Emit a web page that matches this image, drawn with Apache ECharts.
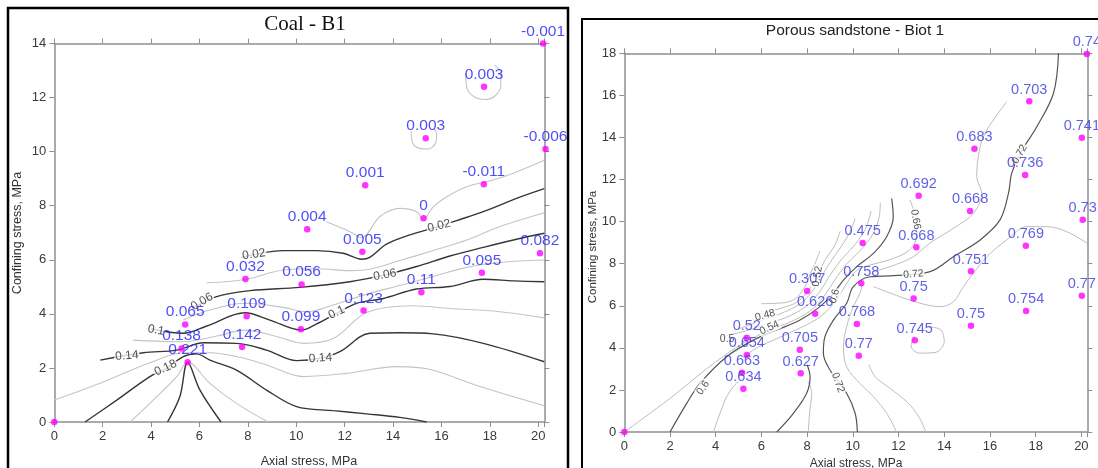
<!DOCTYPE html>
<html><head><meta charset="utf-8">
<script src="https://cdn.jsdelivr.net/npm/echarts@6/dist/echarts.min.js"></script>
<style>html,body{margin:0;padding:0;background:#fff}#c{width:1098px;height:468px}</style>
</head><body><div id="c"></div>
<script>
// ---------- Coal - B1 : measured points ----------
const coalX = [0, 5.51, 5.26, 5.41, 7.76, 7.95, 7.9, 10.19, 10.22, 10.45, 12.78, 12.73, 12.85, 15.17, 15.26, 15.35, 17.67, 17.75, 17.76, 20.07, 20.3, 20.2];
const coalY = [0, 2.21, 2.72, 3.61, 2.77, 3.91, 5.29, 3.43, 5.09, 7.13, 4.12, 6.3, 8.76, 4.8, 7.54, 10.5, 5.52, 8.79, 12.4, 6.24, 10.1, 14];
const coalLabel = ['', '0.221', '0.138', '0.065', '0.142', '0.109', '0.032', '0.099', '0.056', '0.004', '0.123', '0.005', '0.001', '0.11', '0', '0.003', '0.095', '-0.011', '0.003', '0.082', '-0.006', '-0.001'];

// Coal contour lines (dark = labelled levels, light = intermediate levels)
const coalDark = [
  [[7.74,6.09],[9.46,6.34],[10.84,6.34],[11.94,6.24],[12.7,6.02],[13.04,6.09],[13.73,6.58],[14.7,6.92],[15.87,7.23],[16.63,7.45],[17.73,7.78],[19.1,8.27],[20.25,8.63]],
  [[5.7,4.2],[6.71,4.64],[8.09,4.86],[10.15,4.98],[12.22,5.19],[13.66,5.44],[14.97,5.75],[16.35,6.14],[17.73,6.46],[19.1,6.76],[20.25,6.98]],
  [[4.0,3.45],[5.33,3.28],[6.3,3.55],[7.88,4.04],[8.91,3.77],[10.22,3.4],[10.84,3.63],[11.67,4.02],[12.49,4.39],[13.6,4.57],[14.97,4.92],[16.35,5.01],[17.73,5.28],[19.0,5.22],[20.25,5.19]],
  [[1.9,2.29],[3.68,2.56],[5.06,2.66],[6.16,2.93],[7.53,2.91],[8.77,2.66],[10.01,2.27],[10.98,2.36],[11.8,2.6],[13.04,3.28],[14.28,3.3],[15.66,3.26],[17.73,2.91],[20.25,2.23]],
  [[1.27,0],[2.58,0.81],[3.95,1.68],[4.57,1.95],[5.33,2.42],[5.88,2.52],[6.43,2.29],[7.53,1.92],[8.77,1.18],[10.01,0.57],[11.53,0.42],[12.91,0.3],[14.28,0.17],[15.39,0]],
  [[4.68,0],[5.19,0.94],[5.51,2.21],[6.02,1.18],[6.89,0]]
];
const coalLight = [
  [[17.0,12.9],[17.05,12.35],[17.4,12.0],[17.8,11.93],[18.2,12.05],[18.45,12.45],[18.45,12.9],[18.2,13.2]],
  [[14.75,10.75],[14.8,10.35],[15.1,10.12],[15.45,10.1],[15.75,10.3],[15.8,10.65],[15.7,10.85]],
  [[11.25,7.41],[12.22,7.04],[12.7,6.82],[13.46,7.6],[14.28,7.9],[14.97,7.78],[15.25,7.5],[15.66,7.96],[16.22,8.33],[17.04,8.7],[18.14,8.95],[18.97,9.2],[20.25,9.68]],
  [[6.3,5.15],[7.88,5.27],[9.46,5.62],[10.84,5.67],[12.22,5.6],[13.04,5.65],[14.28,5.97],[15.66,6.34],[17.04,6.73],[18.42,7.23],[20.25,7.74]],
  [[5.33,3.77],[6.43,4.14],[7.88,4.39],[9.46,4.24],[10.43,4.08],[11.53,4.33],[12.91,4.73],[14.28,5.05],[15.66,5.38],[17.04,5.72],[18.42,5.9],[20.25,5.99]],
  [[3.26,3.03],[5.33,2.97],[6.71,3.18],[7.88,3.4],[9.19,3.16],[10.29,2.91],[11.53,3.09],[12.91,4.05],[14.82,4.3],[16.35,4.2],[18.42,4.08],[20.25,3.85]],
  [[0,0.81],[1.89,1.43],[3.95,2.19],[5.33,2.56],[6.43,2.56],[7.53,2.42],[8.77,2.11],[10.29,1.68],[12.08,1.8],[14.15,2.05],[15.5,1.95],[17.59,1.31],[20.25,0.6]],
  [[3.13,0],[3.95,0.69],[5.06,1.68],[5.51,2.21],[6.43,1.43],[7.53,0.69],[8.84,0]]
];
const coalLevelText = ['0.02', '0.02', '0.06', '0.06', '0.1', '0.1', '0.14', '0.14', '0.18'];
const coalLevelX = [8.25, 15.9, 13.66, 6.1, 11.67, 4.2, 11.0, 3.0, 4.6];
const coalLevelY = [6.2, 7.25, 5.44, 4.45, 4.05, 3.4, 2.36, 2.45, 2.0];

// ---------- Porous sandstone - Biot 1 : measured points ----------
const sandX = [0, 20.24, 17.72, 20.02, 15.32, 17.54, 12.88, 15.13, 20.06, 10.43, 12.78, 17.57, 15.17, 10.37, 8.0, 12.66, 20.02, 8.35, 17.58, 10.18, 15.17, 5.36, 12.71, 7.68, 5.36, 10.26, 5.15, 7.72, 5.21];
const sandY = [0, 17.97, 15.72, 13.99, 13.46, 12.21, 11.23, 10.5, 10.09, 8.98, 8.78, 8.85, 7.64, 7.07, 6.7, 6.34, 6.48, 5.62, 5.75, 5.13, 5.05, 4.48, 4.36, 3.91, 3.66, 3.63, 2.82, 2.79, 2.06];
const sandLabel = ['', '0.74', '0.703', '0.741', '0.683', '0.736', '0.692', '0.668', '0.73', '0.475', '0.668', '0.769', '0.751', '0.758', '0.307', '0.75', '0.77', '0.626', '0.754', '0.768', '0.75', '0.52', '0.745', '0.705', '0.654', '0.77', '0.663', '0.627', '0.634'];

const sandDark = [
  [[19.0,18],[18.78,16.1],[18.05,14.51],[17.32,13.24],[16.95,12.29],[16.81,11.34],[16.44,10.08],[15.57,9.13],[14.4,8.33],[13.38,7.62],[11.78,7.43],[10.75,7.38],[10.02,6.91],[9.73,6.12],[9.15,5.32],[8.78,4.53],[8.71,3.74],[9.0,2.95],[9.73,1.84],[10.1,0.89],[10.2,0]],
  [[2.0,0],[2.73,1.36],[3.31,2.31],[4.48,3.58],[5.65,4.37],[6.67,4.85],[7.69,5.32],[8.56,5.96],[9.15,6.59],[9.59,7.22],[10.17,7.86],[10.9,8.49],[11.48,9.28],[11.77,10.23],[11.7,11.1]],
  [[6.67,0],[7.4,0.89],[7.98,1.84],[8.13,2.63],[8.0,3.2]]
];
const sandLight = [
  [[0,0],[2.0,1.6],[3.6,3.0],[4.63,3.82],[5.6,4.45],[6.5,4.9],[7.5,5.35],[8.3,5.9],[8.8,6.55],[9.2,7.2],[9.7,7.95],[10.3,8.6],[10.85,9.35],[11.15,10.2],[11.2,10.9]],
  [[4.3,4.55],[5.3,4.8],[6.3,5.15],[7.3,5.55],[8.1,6.1],[8.6,6.75],[9.0,7.45],[9.5,8.2],[10.05,8.85],[10.55,9.65],[10.8,10.5]],
  [[5.0,4.9],[6.0,5.3],[7.0,5.7],[7.7,6.1],[8.2,6.65],[8.6,7.35],[9.0,8.05],[9.45,8.75],[9.85,9.45],[10.1,10.15]],
  [[5.9,5.6],[6.9,5.9],[7.6,6.2],[8.1,6.8],[8.45,7.5],[8.8,8.2],[9.2,8.85],[9.45,9.55]],
  [[6.0,6.1],[7.0,6.15],[7.5,6.35],[7.9,6.9],[8.15,7.55],[8.4,8.15],[8.55,8.6]],
  [[12.5,11.03],[12.75,10.2],[12.8,9.44],[12.65,8.85],[12.2,8.45],[11.5,8.15],[10.8,7.95],[10.2,7.7],[9.75,7.1],[9.4,6.45],[8.95,5.85],[8.4,5.35],[7.6,4.9],[6.7,4.45],[5.8,4.0],[5.2,3.55]],
  [[16.73,15.7],[16.15,14.83],[15.71,14.04],[15.49,13.09],[15.42,12.14],[15.64,11.34],[15.27,10.39],[14.4,9.68],[13.4,9.0],[12.6,8.3],[11.6,7.85],[10.9,7.62]],
  [[11.92,0],[11.48,0.89],[10.9,1.68],[10.31,2.31],[9.73,3.1],[9.59,4.06],[9.73,5.01],[10.02,5.96],[10.31,6.59],[10.4,7.0]],
  [[10.9,6.91],[12.07,6.43],[12.94,6.12],[13.82,5.96],[14.4,6.19],[14.84,6.91],[15.27,7.54],[15.86,8.33],[16.73,9.13],[17.61,9.76],[18.49,9.76],[19.36,9.52],[20.26,8.97]],
  [[12.7,4.55],[12.55,4.1],[12.9,3.75],[13.6,3.78],[14.0,4.3],[13.85,4.85],[13.35,5.0]],
  [[3.9,0],[4.19,0.89],[4.48,1.68],[4.77,2.15],[5.0,2.4]],
  [[8.05,0],[8.12,1.05],[8.2,1.84],[8.05,2.4]],
  [[13.2,0],[12.9,0.7],[12.4,1.4],[11.6,2.1],[11.0,2.6],[10.7,3.2]]
];
const sandLevelText = ['0.72', '0.72', '0.72', '0.6', '0.6', '0.66', '0.48', '0.54', '0.52', '0.5'];
const sandLevelX = [17.3, 12.65, 9.35, 3.45, 9.2, 12.75, 6.16, 6.35, 8.45, 4.5];
const sandLevelY = [13.2, 7.5, 2.35, 2.1, 6.45, 10.1, 5.55, 4.95, 7.4, 4.4];

// ---------- styling ----------
const coalLevelAngle = [8, 14, 10, 30, 25, -10, 4, 5, 25];
const sandLevelAngle = [60, 5, -70, 55, 75, -80, 15, 25, 80, 0];
const FONT = 'Liberation Sans, Arial, Helvetica, sans-serif';
const axisGray = '#8f8f8f';

function axes(gi, xmax, ymax) {
  const common = {
    type: 'value', gridIndex: gi, min: 0, interval: 2,
    splitLine: {show: false},
    axisLine: {show: true, onZero: false, lineStyle: {color: axisGray, width: 1.5}},
    axisTick: {show: true, inside: false, length: 5, lineStyle: {color: axisGray, width: 1}}
  };
  const lab = {show: true, color: '#3a3a3a', fontSize: 13, fontFamily: FONT,
    formatter: v => (Math.abs(v % 2) < 1e-9 ? String(v) : '')};
  return {
    x: [
      Object.assign({}, common, {max: xmax, position: 'bottom', axisLabel: Object.assign({}, lab, {margin: 8}), showMaxLabel: false}),
      Object.assign({}, common, {max: xmax, position: 'top', axisLabel: {show: false}})
    ],
    y: [
      Object.assign({}, common, {max: ymax, position: 'left', axisLabel: Object.assign({}, lab, {margin: 8})}),
      Object.assign({}, common, {max: ymax, position: 'right', axisLabel: {show: false}})
    ]
  };
}

const a0 = axes(0, 20.25, 14);
const a1 = axes(1, 20.26, 18);
const xAxis = [a0.x[0], a0.x[1], a1.x[0], a1.x[1]];
const yAxis = [a0.y[0], a0.y[1], a1.y[0], a1.y[1]];

const series = [];
function addLines(lines, xi, yi, color, width) {
  lines.forEach(pts => series.push({
    type: 'line', xAxisIndex: xi, yAxisIndex: yi, data: pts, smooth: 0.35,
    symbol: 'none', silent: true, z: 1,
    lineStyle: {color: color, width: width}
  }));
}
addLines(coalLight, 0, 0, '#c4c4c4', 1.1);
addLines(coalDark, 0, 0, '#363636', 1.4);
addLines(sandLight, 2, 2, '#bdbdbd', 1);
addLines(sandDark, 2, 2, '#555555', 1.2);

function addLevelLabels(xs, ys, txt, ang, xi, yi, size) {
  series.push({
    type: 'scatter', xAxisIndex: xi, yAxisIndex: yi, symbolSize: 0, silent: true, z: 2, clip: false,
    data: xs.map((x, i) => ({value: [x, ys[i]], name: txt[i], label: {rotate: ang[i]}})),
    label: {show: true, position: 'inside', formatter: p => p.name, color: '#262626',
      fontSize: size, fontFamily: FONT, backgroundColor: '#ffffff', padding: [0, 1]}
  });
}
addLevelLabels(coalLevelX, coalLevelY, coalLevelText, coalLevelAngle, 0, 0, 12);
addLevelLabels(sandLevelX, sandLevelY, sandLevelText, sandLevelAngle, 2, 2, 10.5);

function addPoints(xs, ys, labs, xi, yi, size, color) {
  series.push({
    type: 'scatter', xAxisIndex: xi, yAxisIndex: yi, symbol: 'circle', symbolSize: 6.5, z: 3, clip: false,
    itemStyle: {color: '#ff00ff'},
    data: xs.map((x, i) => ({value: [x, ys[i]], name: labs[i]})),
    label: {show: true, position: 'top', distance: 1, formatter: p => p.name,
      color: color, fontSize: size, fontFamily: FONT}
  });
}
addPoints(coalX, coalY, coalLabel, 0, 0, 15.5, '#2222f8');
addPoints(sandX, sandY, sandLabel, 2, 2, 14.5, '#3838e0');

const graphic = [
  {type: 'rect', shape: {x: 8, y: 8, width: 560, height: 480}, style: {fill: 'none', stroke: '#000', lineWidth: 2.5}},
  {type: 'rect', shape: {x: 582, y: 19, width: 540, height: 470}, style: {fill: 'none', stroke: '#000', lineWidth: 2}},
  {type: 'text', x: 305, y: 24, style: {text: 'Coal - B1', font: '21px "Liberation Serif", "Times New Roman", serif', fill: '#111', textAlign: 'center', textVerticalAlign: 'middle'}},
  {type: 'text', x: 855, y: 31, style: {text: 'Porous sandstone - Biot 1', font: '15.5px ' + FONT, fill: '#222', textAlign: 'center', textVerticalAlign: 'middle'}},
  {type: 'text', x: 309, y: 462, style: {text: 'Axial stress, MPa', font: '12.5px ' + FONT, fill: '#333', textAlign: 'center', textVerticalAlign: 'middle'}},
  {type: 'text', x: 856, y: 464, style: {text: 'Axial stress, MPa', font: '12px ' + FONT, fill: '#333', textAlign: 'center', textVerticalAlign: 'middle'}},
  {type: 'text', x: 18, y: 233, rotation: Math.PI / 2, style: {text: 'Confining stress, MPa', font: '12.5px ' + FONT, fill: '#333', textAlign: 'center', textVerticalAlign: 'middle'}},
  {type: 'text', x: 593, y: 247, rotation: Math.PI / 2, style: {text: 'Confining stress, MPa', font: '11.5px ' + FONT, fill: '#333', textAlign: 'center', textVerticalAlign: 'middle'}}
];

const chart = echarts.init(document.getElementById('c'), null, {renderer: 'canvas'});
chart.setOption({
  animation: false,
  backgroundColor: '#ffffff',
  grid: [
    {left: 54.3, top: 43.5, width: 490, height: 378.5},
    {left: 624.3, top: 53.3, width: 463, height: 378.7}
  ],
  xAxis: xAxis,
  yAxis: yAxis,
  series: series,
  graphic: graphic
});
</script>
</body></html>
